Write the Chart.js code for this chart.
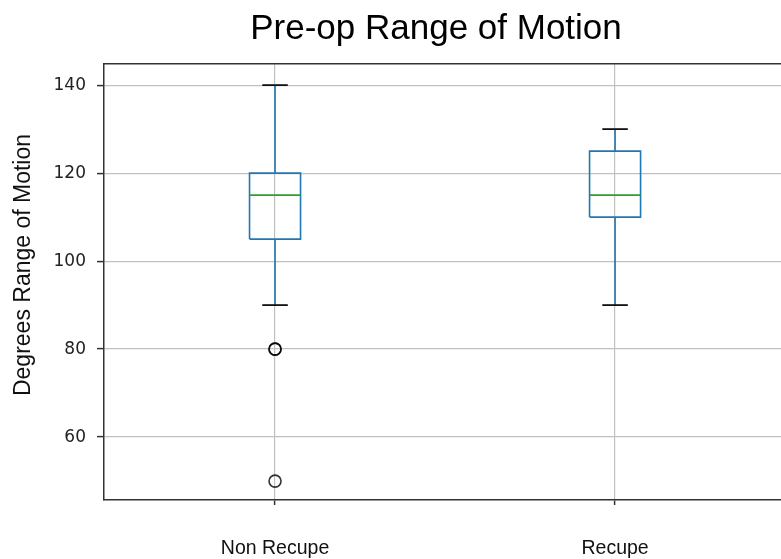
<!DOCTYPE html>
<html>
<head>
<meta charset="utf-8">
<script src="https://cdn.jsdelivr.net/npm/chart.js@4"></script>
<style>
html,body{margin:0;padding:0;background:#fff;overflow:hidden;}
#wrap{position:relative;width:781px;height:559px;}
</style>
</head>
<body>
<div id="wrap"><canvas id="c"></canvas></div>
<script>
// ---- data ----
const categories = ['Non Recupe', 'Recupe'];
const whiskerLow = [90, 90];
const q1 = [105, 110];
const median = [115, 115];
const q3 = [120, 125];
const whiskerHigh = [140, 130];
const outliers = [[80, 80, 50], []];
const yTicks = [60, 80, 100, 120, 140];

const titleText = 'Pre-op Range of Motion';
const yTitle = 'Degrees Range of Motion';

const SANS = "'Liberation Sans', Arial, sans-serif";
const BLUE = '#1f77b4', GREEN = '#2ca02c', CAP = '#111111';
const boxW = 0.15;

const datasets = [];
categories.forEach((c, i) => {
  const x = i + 1, h = boxW / 2, ch = boxW / 4;
  const line = (pts, color, order, w) => ({
    type: 'scatter', data: pts, showLine: true, borderColor: color,
    borderWidth: w || 1.6, pointRadius: 0, pointHoverRadius: 0, fill: false, order: order
  });
  // whiskers
  datasets.push(line([{x: x, y: q1[i]}, {x: x, y: whiskerLow[i]}], BLUE, 4));
  datasets.push(line([{x: x, y: q3[i]}, {x: x, y: whiskerHigh[i]}], BLUE, 4));
  // caps
  datasets.push(line([{x: x - ch, y: whiskerLow[i]}, {x: x + ch, y: whiskerLow[i]}], CAP, 3, 1.8));
  datasets.push(line([{x: x - ch, y: whiskerHigh[i]}, {x: x + ch, y: whiskerHigh[i]}], CAP, 3, 1.8));
  // box
  datasets.push(line([
    {x: x - h, y: q1[i]}, {x: x + h, y: q1[i]}, {x: x + h, y: q3[i]},
    {x: x - h, y: q3[i]}, {x: x - h, y: q1[i]}
  ], BLUE, 2));
  // median
  datasets.push(line([{x: x - h, y: median[i]}, {x: x + h, y: median[i]}], GREEN, 1));
  // outliers
  if (outliers[i].length) {
    datasets.push({
      type: 'scatter', data: outliers[i].map(v => ({x: x, y: v})),
      pointStyle: 'circle', pointRadius: 6, pointBorderWidth: 1.6,
      pointBorderColor: 'rgba(0,0,0,0.8)', pointBackgroundColor: 'rgba(0,0,0,0)',
      showLine: false, order: 0
    });
  }
});

const textPlugin = {
  id: 'figText',
  afterDraw(chart) {
    const ctx = chart.ctx;
    ctx.save();
    ctx.font = '35px ' + SANS;
    ctx.fillStyle = '#000';
    ctx.textAlign = 'center';
    ctx.textBaseline = 'alphabetic';
    ctx.fillText(titleText, 436, 39);
    ctx.restore();
    ctx.save();
    ctx.translate(23.8, 265);
    ctx.rotate(-Math.PI / 2);
    ctx.font = '23px ' + SANS;
    ctx.fillStyle = '#111';
    ctx.textAlign = 'center';
    ctx.textBaseline = 'middle';
    ctx.fillText(yTitle, 0, 0);
    ctx.restore();
  }
};

function hFit(s, h) {
  s.height = h;
  s.paddingLeft = 0; s.paddingRight = 0;
}

new Chart(document.getElementById('c'), {
  type: 'scatter',
  data: { datasets: datasets },
  plugins: [textPlugin],
  options: {
    responsive: true,
    maintainAspectRatio: false,
    animation: false,
    events: [],
    layout: { autoPadding: false, padding: { top: 64, left: 0, right: 0, bottom: 0 } },
    plugins: { legend: { display: false }, tooltip: { enabled: false }, title: { display: false } },
    scales: {
      x: {
        type: 'linear', min: 0.497, max: 2.488, position: 'bottom',
        afterBuildTicks: s => { s.ticks = categories.map((c, i) => ({value: i + 1})); },
        afterFit: s => hFit(s, 59),
        ticks: {
          callback: v => categories[Math.round(v) - 1] || '',
          font: { family: SANS, size: 19.5 }, color: '#111', padding: 32, maxRotation: 0, autoSkip: false
        },
        grid: { color: '#c0c0c0', lineWidth: 1.2, tickLength: 5, tickColor: '#333', tickWidth: 1.5 },
        border: { display: true, color: '#333', width: 1.5 }
      },
      x2: {
        type: 'linear', position: 'top', display: true,
        afterFit: s => hFit(s, 0),
        ticks: { display: false }, grid: { display: false, drawTicks: false },
        border: { display: true, color: '#333', width: 1.5 }
      },
      y: {
        type: 'linear', min: 45.7, max: 144.8, position: 'left',
        afterBuildTicks: s => { s.ticks = yTicks.map(v => ({value: v})); },
        afterFit: s => { s.width = 104; s.paddingTop = 0; s.paddingBottom = 0; },
        ticks: { font: { family: "'DejaVu Sans', sans-serif", size: 17 }, color: '#222', padding: 11 },
        grid: { color: '#c0c0c0', lineWidth: 1.2, tickLength: 7, tickColor: '#333', tickWidth: 1.5 },
        border: { display: true, color: '#333', width: 1.5 },
        title: { display: false }
      }
    }
  }
});
</script>
</body>
</html>
